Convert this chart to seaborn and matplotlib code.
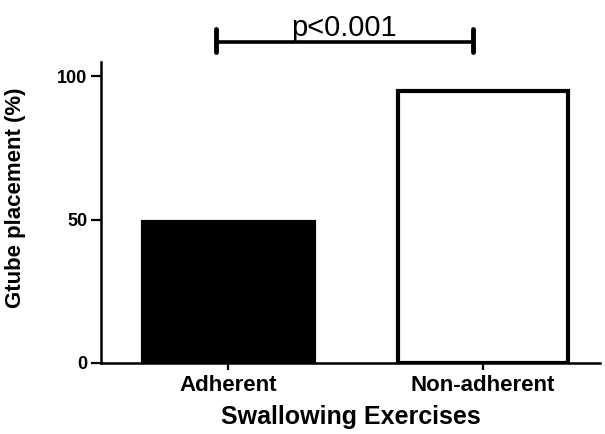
import matplotlib
matplotlib.use('Agg')
import matplotlib.pyplot as plt
import seaborn as sns
import pandas as pd

# Values
groups = ['Adherent', 'Non-adherent']
gtube_pct = [49, 95]
bar_colors = ['black', 'white']
y_ticks = [0, 50, 100]
p_label = 'p<0.001'

# significance bracket (x in category units, y in data units)
bracket_x = [-0.05, 0.96]
bracket_y = 112
bracket_cap = [108.5, 116.5]

sns.set_style('ticks')
plt.rcParams['font.family'] = ['Liberation Sans', 'DejaVu Sans']
plt.rcParams.update({'text.color': 'black', 'axes.labelcolor': 'black',
                     'xtick.color': 'black', 'ytick.color': 'black',
                     'axes.edgecolor': 'black'})

df = pd.DataFrame({'group': groups, 'pct': gtube_pct})

fig = plt.figure(figsize=(6.05, 4.34), dpi=100)
ax = fig.add_axes([0.167, 0.164, 0.825, 0.693])

sns.barplot(data=df, x='group', y='pct', hue='group', palette=bar_colors,
            edgecolor='black', linewidth=3, width=0.67, legend=False, ax=ax)

ax.set_ylim(0, 105)
ax.set_xlim(-0.5, 1.46)
ax.set_yticks(y_ticks)
ax.set_yticklabels([str(t) for t in y_ticks], fontsize=13, fontweight='bold')
ax.set_xticks(range(len(groups)))
ax.set_xticklabels(groups, fontsize=16, fontweight='bold')

ax.tick_params(axis='y', length=7, width=1.6, pad=3)
ax.tick_params(axis='x', length=5, width=1.6, pad=4)
for side in ['top', 'right']:
    ax.spines[side].set_visible(False)
for side in ['left', 'bottom']:
    ax.spines[side].set_linewidth(1.8)

ax.set_xlabel('Swallowing Exercises', fontsize=18, fontweight='bold', labelpad=6)
ax.set_ylabel('Gtube placement (%)', fontsize=16, fontweight='bold')
ax.yaxis.set_label_coords(-0.15, 0.55)

# significance bracket
ax.plot(bracket_x, [bracket_y, bracket_y], color='black', lw=2.6, clip_on=False)
for bx in bracket_x:
    ax.plot([bx, bx], bracket_cap, color='black', lw=3.5, clip_on=False)
ax.text(sum(bracket_x) / 2, bracket_y + 2.2, p_label, ha='center', va='baseline',
        fontsize=21, clip_on=False)

fig.savefig('out.png', dpi=100)
